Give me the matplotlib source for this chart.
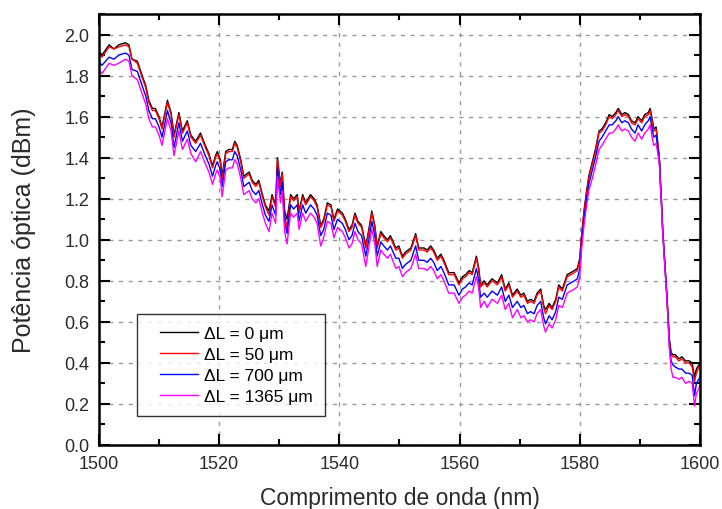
import numpy as np
import matplotlib
matplotlib.use("Agg")
import matplotlib.pyplot as plt
from matplotlib.ticker import MultipleLocator, FormatStrFormatter
from matplotlib.lines import Line2D
from matplotlib.legend_handler import HandlerLine2D

plt.rcParams['font.family'] = ['Liberation Sans', 'DejaVu Sans']

# wavelength (nm)
wl = [1500.0, 1500.5, 1501.7, 1502.5, 1503.3, 1504.4, 1505.0, 1505.5, 1506.4, 1507.2,
      1507.8, 1508.3, 1508.9, 1509.4, 1510.0, 1510.5, 1511.4, 1512.0, 1512.5, 1513.3,
      1513.9, 1514.7, 1515.3, 1516.1, 1516.9, 1517.7, 1518.3, 1518.9, 1519.4, 1519.7,
      1520.2, 1520.5, 1521.1, 1521.6, 1522.2, 1522.6, 1523.0, 1523.6, 1524.1, 1525.0,
      1525.5, 1526.1, 1526.6, 1527.2, 1527.7, 1528.3, 1528.8, 1529.4, 1529.7, 1530.2,
      1530.5, 1530.9, 1531.3, 1531.9, 1532.4, 1533.0, 1533.3, 1533.9, 1534.4, 1535.2,
      1535.8, 1536.3, 1536.9, 1537.4, 1538.0, 1538.6, 1539.1, 1539.7, 1540.5, 1541.0,
      1541.6, 1542.1, 1542.6, 1543.1, 1543.7, 1544.4, 1544.9, 1545.4, 1545.9, 1546.3,
      1546.9, 1547.4, 1548.0, 1548.5, 1549.4, 1549.9, 1550.5, 1551.0, 1551.9, 1552.7,
      1553.2, 1554.1, 1554.6, 1555.2, 1555.7, 1556.3, 1556.9, 1557.4, 1558.2, 1559.1,
      1559.9, 1560.5, 1561.0, 1561.6, 1562.1, 1562.8, 1563.2, 1563.5, 1564.1, 1564.6,
      1565.4, 1566.3, 1567.0, 1567.6, 1568.2, 1568.8, 1569.6, 1570.2, 1570.7, 1571.3,
      1571.8, 1572.4, 1572.9, 1573.5, 1574.0, 1574.3, 1574.9, 1575.4, 1576.0, 1576.5,
      1577.1, 1577.9, 1578.5, 1579.1, 1579.6, 1580.0, 1580.3, 1580.7, 1581.1, 1581.5,
      1582.1, 1582.6, 1583.2, 1583.7, 1584.3, 1584.9, 1585.4, 1586.0, 1586.4, 1587.0,
      1587.5, 1588.1, 1588.6, 1589.2, 1589.7, 1590.3, 1590.8, 1591.4, 1591.7, 1592.1,
      1592.3, 1592.7, 1593.1, 1593.3, 1593.4, 1593.6, 1593.8, 1594.0, 1594.3, 1594.5,
      1594.7, 1594.9, 1595.2, 1595.5, 1595.9, 1596.5, 1597.0, 1597.6, 1598.2, 1598.7,
      1599.1, 1599.4, 1600.0]

# optical power (dBm), dL = 0 um
p_0 = [1.92, 1.90, 1.95, 1.93, 1.95, 1.96, 1.95, 1.88, 1.87, 1.80,
       1.75, 1.68, 1.64, 1.64, 1.60, 1.55, 1.68, 1.62, 1.51, 1.62,
       1.53, 1.58, 1.51, 1.48, 1.52, 1.46, 1.42, 1.36, 1.41, 1.43,
       1.39, 1.31, 1.43, 1.44, 1.44, 1.48, 1.46, 1.39, 1.31, 1.33,
       1.29, 1.27, 1.29, 1.22, 1.17, 1.14, 1.22, 1.17, 1.40, 1.27,
       1.33, 1.14, 1.10, 1.22, 1.20, 1.22, 1.14, 1.22, 1.18, 1.22,
       1.20, 1.17, 1.07, 1.10, 1.18, 1.17, 1.10, 1.15, 1.13, 1.10,
       1.05, 1.07, 1.13, 1.09, 1.07, 0.97, 1.05, 1.14, 1.07, 0.97,
       1.04, 1.02, 1.00, 1.02, 0.96, 0.97, 0.92, 0.94, 0.96, 1.03,
       0.96, 0.96, 0.95, 0.97, 0.95, 0.91, 0.93, 0.90, 0.84, 0.84,
       0.79, 0.82, 0.83, 0.85, 0.84, 0.92, 0.86, 0.78, 0.80, 0.78,
       0.81, 0.79, 0.83, 0.76, 0.79, 0.73, 0.76, 0.73, 0.74, 0.70,
       0.71, 0.70, 0.74, 0.76, 0.68, 0.66, 0.69, 0.67, 0.71, 0.78,
       0.76, 0.83, 0.84, 0.85, 0.86, 0.91, 1.02, 1.14, 1.23, 1.31,
       1.38, 1.44, 1.53, 1.54, 1.57, 1.61, 1.60, 1.62, 1.64, 1.61,
       1.62, 1.61, 1.58, 1.57, 1.60, 1.58, 1.61, 1.62, 1.64, 1.58,
       1.54, 1.55, 1.44, 1.38, 1.30, 1.19, 1.05, 0.96, 0.83, 0.73,
       0.62, 0.52, 0.45, 0.44, 0.44, 0.42, 0.43, 0.41, 0.41, 0.40,
       0.33, 0.37, 0.40]

# dL = 50 um
p_50 = [1.91, 1.89, 1.94, 1.93, 1.94, 1.95, 1.94, 1.88, 1.86, 1.79,
        1.74, 1.67, 1.63, 1.63, 1.59, 1.54, 1.67, 1.61, 1.50, 1.61,
        1.52, 1.57, 1.50, 1.47, 1.51, 1.45, 1.41, 1.35, 1.40, 1.42,
        1.38, 1.29, 1.42, 1.43, 1.43, 1.47, 1.45, 1.38, 1.30, 1.32,
        1.28, 1.26, 1.28, 1.21, 1.16, 1.12, 1.21, 1.16, 1.39, 1.26,
        1.32, 1.12, 1.06, 1.21, 1.19, 1.21, 1.13, 1.21, 1.17, 1.21,
        1.19, 1.16, 1.06, 1.09, 1.17, 1.16, 1.09, 1.14, 1.12, 1.09,
        1.04, 1.06, 1.12, 1.08, 1.06, 0.96, 1.04, 1.13, 1.06, 0.96,
        1.03, 1.01, 0.99, 1.01, 0.95, 0.96, 0.91, 0.93, 0.95, 1.02,
        0.95, 0.95, 0.94, 0.96, 0.94, 0.90, 0.92, 0.89, 0.83, 0.83,
        0.78, 0.81, 0.82, 0.84, 0.83, 0.91, 0.85, 0.77, 0.79, 0.77,
        0.80, 0.78, 0.82, 0.75, 0.78, 0.72, 0.75, 0.72, 0.73, 0.69,
        0.70, 0.69, 0.73, 0.75, 0.67, 0.64, 0.68, 0.66, 0.70, 0.77,
        0.75, 0.82, 0.83, 0.84, 0.85, 0.90, 1.01, 1.13, 1.22, 1.30,
        1.37, 1.43, 1.52, 1.53, 1.56, 1.60, 1.59, 1.61, 1.63, 1.60,
        1.61, 1.60, 1.57, 1.56, 1.59, 1.57, 1.60, 1.61, 1.63, 1.57,
        1.53, 1.54, 1.43, 1.37, 1.29, 1.18, 1.04, 0.95, 0.82, 0.72,
        0.61, 0.51, 0.44, 0.43, 0.43, 0.41, 0.42, 0.40, 0.40, 0.38,
        0.31, 0.35, 0.39]

# dL = 700 um
p_700 = [1.87, 1.85, 1.89, 1.88, 1.90, 1.91, 1.90, 1.83, 1.82, 1.75,
         1.70, 1.63, 1.59, 1.59, 1.55, 1.50, 1.63, 1.57, 1.45, 1.57,
         1.48, 1.53, 1.46, 1.43, 1.47, 1.41, 1.37, 1.31, 1.36, 1.38,
         1.34, 1.26, 1.38, 1.39, 1.39, 1.43, 1.41, 1.34, 1.26, 1.28,
         1.24, 1.22, 1.24, 1.17, 1.12, 1.09, 1.17, 1.12, 1.35, 1.22,
         1.28, 1.09, 1.03, 1.17, 1.15, 1.17, 1.09, 1.17, 1.13, 1.17,
         1.15, 1.12, 1.02, 1.05, 1.13, 1.12, 1.05, 1.10, 1.08, 1.05,
         1.00, 1.02, 1.08, 1.04, 1.02, 0.92, 1.00, 1.09, 1.02, 0.92,
         0.99, 0.97, 0.95, 0.97, 0.91, 0.91, 0.86, 0.88, 0.90, 0.97,
         0.90, 0.90, 0.89, 0.91, 0.89, 0.85, 0.87, 0.84, 0.78, 0.78,
         0.73, 0.76, 0.77, 0.79, 0.78, 0.86, 0.80, 0.72, 0.74, 0.72,
         0.75, 0.73, 0.77, 0.70, 0.73, 0.67, 0.70, 0.67, 0.68, 0.64,
         0.65, 0.64, 0.68, 0.70, 0.62, 0.59, 0.63, 0.61, 0.65, 0.72,
         0.71, 0.78, 0.79, 0.80, 0.81, 0.86, 0.98, 1.10, 1.19, 1.27,
         1.34, 1.40, 1.48, 1.50, 1.53, 1.56, 1.56, 1.58, 1.60, 1.57,
         1.58, 1.57, 1.54, 1.52, 1.56, 1.53, 1.56, 1.58, 1.60, 1.53,
         1.50, 1.51, 1.42, 1.36, 1.28, 1.17, 1.04, 0.95, 0.82, 0.72,
         0.60, 0.49, 0.41, 0.39, 0.38, 0.37, 0.37, 0.35, 0.35, 0.34,
         0.24, 0.30, 0.33]

# dL = 1365 um
p_1365 = [1.83, 1.81, 1.86, 1.85, 1.86, 1.88, 1.87, 1.80, 1.78, 1.71,
          1.66, 1.59, 1.55, 1.55, 1.51, 1.46, 1.59, 1.53, 1.41, 1.53,
          1.44, 1.49, 1.42, 1.38, 1.43, 1.37, 1.33, 1.27, 1.32, 1.34,
          1.30, 1.21, 1.34, 1.35, 1.35, 1.39, 1.37, 1.30, 1.22, 1.24,
          1.20, 1.18, 1.20, 1.13, 1.08, 1.04, 1.13, 1.08, 1.31, 1.18,
          1.24, 1.04, 0.98, 1.13, 1.11, 1.13, 1.05, 1.13, 1.09, 1.13,
          1.11, 1.08, 0.97, 1.01, 1.09, 1.08, 1.01, 1.06, 1.04, 1.01,
          0.96, 0.98, 1.04, 1.00, 0.98, 0.87, 0.96, 1.05, 0.98, 0.87,
          0.95, 0.93, 0.91, 0.93, 0.86, 0.87, 0.82, 0.84, 0.86, 0.93,
          0.86, 0.86, 0.85, 0.87, 0.85, 0.81, 0.83, 0.80, 0.74, 0.74,
          0.69, 0.72, 0.73, 0.75, 0.74, 0.82, 0.76, 0.67, 0.70, 0.67,
          0.71, 0.69, 0.73, 0.66, 0.69, 0.62, 0.66, 0.62, 0.63, 0.60,
          0.61, 0.60, 0.64, 0.66, 0.58, 0.55, 0.59, 0.57, 0.61, 0.68,
          0.67, 0.74, 0.75, 0.76, 0.77, 0.82, 0.95, 1.07, 1.16, 1.24,
          1.30, 1.36, 1.44, 1.46, 1.49, 1.52, 1.52, 1.54, 1.56, 1.53,
          1.54, 1.53, 1.50, 1.48, 1.52, 1.49, 1.52, 1.54, 1.56, 1.49,
          1.46, 1.47, 1.40, 1.34, 1.27, 1.16, 1.03, 0.94, 0.81, 0.71,
          0.59, 0.47, 0.37, 0.33, 0.33, 0.32, 0.33, 0.30, 0.31, 0.30,
          0.19, 0.25, 0.29]

labels = ["ΔL = 0 μm", "ΔL = 50 μm", "ΔL = 700 μm", "ΔL = 1365 μm"]
colors = ["black", "#ff0000", "#0000ff", "#ff00ff"]

fig = plt.figure(figsize=(7.22, 5.10), dpi=100)
ax = fig.add_axes([0.137, 0.1255, 0.8325, 0.845])

for ys, lab, c in zip([p_0, p_50, p_700, p_1365], labels, colors):
    ax.plot(wl, ys, color=c, linewidth=1.0, label=lab)

ax.set_xlim(1500, 1600)
ax.set_ylim(0, 2.1)
ax.xaxis.set_major_locator(MultipleLocator(20))
ax.xaxis.set_minor_locator(MultipleLocator(10))
ax.yaxis.set_major_locator(MultipleLocator(0.2))
ax.yaxis.set_minor_locator(MultipleLocator(0.1))
ax.yaxis.set_major_formatter(FormatStrFormatter("%.1f"))

ax.tick_params(which="both", direction="in", top=True, right=True, width=1.5,
               labelsize=13, colors="black", labelcolor="#2a2a2a")
ax.tick_params(which="major", length=8, pad=7)
ax.tick_params(which="minor", length=4.5)
for s in ax.spines.values():
    s.set_linewidth(1.8)

ax.grid(True, which="major", color="#999999", linestyle=(0, (3, 4)), linewidth=1.0)
ax.set_axisbelow(True)

ax.set_xlabel("Comprimento de onda (nm)", fontsize=16.5, color="#2a2a2a", labelpad=10)
ax.set_ylabel("Potência óptica (dBm)", fontsize=18, color="#2a2a2a", labelpad=20)

leg = ax.legend(loc="lower left", bbox_to_anchor=(0.063, 0.067), fontsize=12.5,
                frameon=True, fancybox=False, edgecolor="black", handlelength=2.8,
                borderpad=0.7, labelspacing=0.33, handletextpad=0.35, borderaxespad=0,
                handler_map={Line2D: HandlerLine2D(xpad=0.63)})
leg.get_frame().set_linewidth(1.0)

fig.savefig("out.png", dpi=100)
